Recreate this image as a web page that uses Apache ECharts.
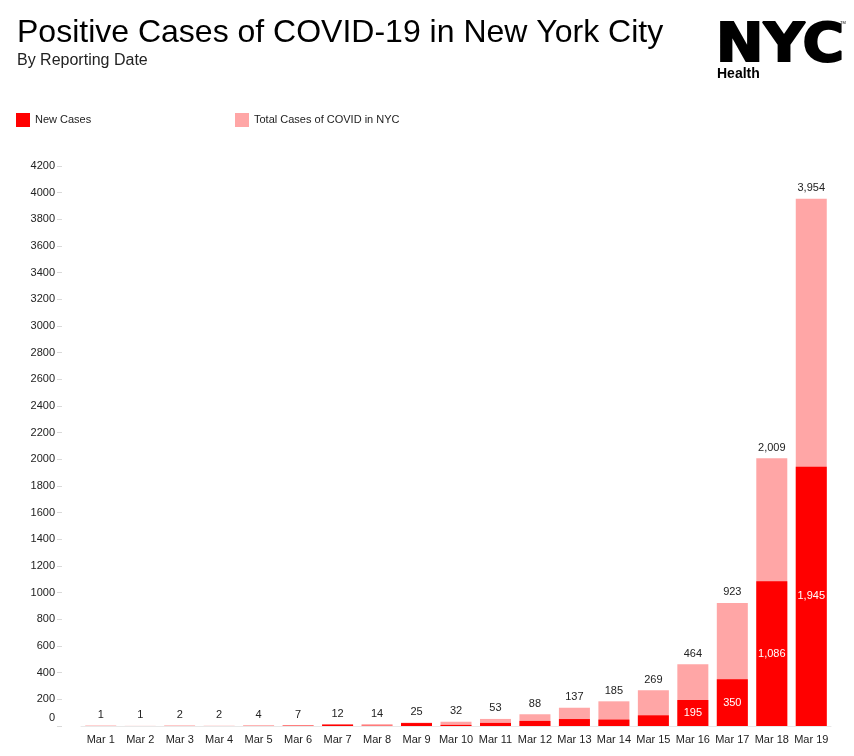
<!DOCTYPE html>
<html>
<head>
<meta charset="utf-8">
<script src="https://cdn.jsdelivr.net/npm/echarts@6/dist/echarts.min.js"></script>
<style>
    html, body { margin: 0; padding: 0; background: #fff; }
    #chart { width: 854px; height: 756px; }
</style>
</head>
<body>
<div id="chart"></div>
<script>
// data
const days = ['Mar 1', 'Mar 2', 'Mar 3', 'Mar 4', 'Mar 5', 'Mar 6', 'Mar 7', 'Mar 8', 'Mar 9', 'Mar 10',
    'Mar 11', 'Mar 12', 'Mar 13', 'Mar 14', 'Mar 15', 'Mar 16', 'Mar 17', 'Mar 18', 'Mar 19'];
const totalCases = [1, 1, 2, 2, 4, 7, 12, 14, 25, 32, 53, 88, 137, 185, 269, 464, 923, 2009, 3954];
const newCases = [1, 0, 1, 0, 1, 2, 11, 2, 22, 8, 23, 38, 52, 48, 80, 195, 350, 1086, 1945];
const shownNewLabels = [195, 350, 1086, 1945];

const font = 'Liberation Sans, Arial, sans-serif';
const fmt = (v) => v.toLocaleString('en-US');

let myChart = echarts.init(document.getElementById('chart'));
let option = {
    backgroundColor: '#fff',
    animation: false,
    textStyle: { fontFamily: font },
    title: [
        {
            text: 'Positive Cases of COVID-19 in New York City',
            left: 12,
            top: 12,
            textStyle: { fontSize: 32, fontWeight: 'normal', color: '#000', fontFamily: font }
        },
        {
            text: 'By Reporting Date',
            left: 12,
            top: 48,
            textStyle: { fontSize: 16, fontWeight: 'normal', color: '#222', fontFamily: font }
        }
    ],
    legend: [
        {
            data: ['New Cases'],
            left: 11,
            top: 108,
            itemWidth: 14,
            itemHeight: 14,
            itemGap: 6,
            icon: 'rect',
            textStyle: { fontSize: 11, color: '#222' }
        },
        {
            data: ['Total Cases of COVID in NYC'],
            left: 230,
            top: 108,
            itemWidth: 14,
            itemHeight: 14,
            icon: 'rect',
            textStyle: { fontSize: 11, color: '#222' }
        }
    ],
    grid: {
        left: 81,
        right: 23,
        top: 166,
        bottom: 30,
        containLabel: false
    },
    xAxis: {
        type: 'category',
        data: days,
        axisLine: { lineStyle: { color: '#e8e8e8' } },
        axisTick: { alignWithLabel: true, length: 5, lineStyle: { color: '#e8e8e8' } },
        axisLabel: { fontSize: 11, color: '#222', margin: 8, interval: 0 }
    },
    yAxis: {
        type: 'value',
        min: 0,
        max: 4200,
        interval: 200,
        offset: 19,
        axisLine: { show: false },
        axisTick: { show: true, length: 5, lineStyle: { color: '#d9d9d9' } },
        splitLine: { show: false },
        axisLabel: {
            fontSize: 11,
            color: '#222',
            margin: 7,
            formatter: (v) => (v === 0 ? '{z|0}' : String(v)),
            rich: { z: { fontSize: 11, color: '#222', padding: [0, 0, 16, 0] } }
        }
    },
    series: [
        {
            name: 'Total Cases of COVID in NYC',
            type: 'bar',
            barWidth: 31,
            itemStyle: { color: '#ffa6a6' },
            label: {
                show: true,
                position: 'top',
                distance: 5,
                fontSize: 11,
                color: '#222',
                formatter: (p) => fmt(p.value)
            },
            data: totalCases
        },
        {
            name: 'New Cases',
            type: 'bar',
            barWidth: 31,
            barGap: '-100%',
            itemStyle: { color: '#ff0000' },
            label: {
                show: true,
                position: 'inside',
                fontSize: 11,
                color: '#fff',
                formatter: (p) => (shownNewLabels.indexOf(p.value) >= 0 ? fmt(p.value) : '')
            },
            data: newCases
        }
    ],
    graphic: [
        {
            type: 'text',
            x: 716,
            y: 47,
            scaleX: 1.07,
            style: {
                text: 'NYC',
                font: '900 53px "DejaVu Sans", sans-serif',
                fill: '#000',
                stroke: '#000',
                lineWidth: 2,
                verticalAlign: 'middle'
            }
        },
        {
            type: 'text',
            left: 840,
            top: 21,
            style: { text: 'TM', font: '4px sans-serif', fill: '#000' }
        },
        {
            type: 'text',
            left: 717,
            top: 67,
            style: {
                text: 'Health',
                font: 'bold 14px "Liberation Sans", Arial, sans-serif',
                fill: '#000'
            }
        }
    ]
};
myChart.setOption(option);
window.onresize = myChart.resize;
</script>
</body>
</html>
